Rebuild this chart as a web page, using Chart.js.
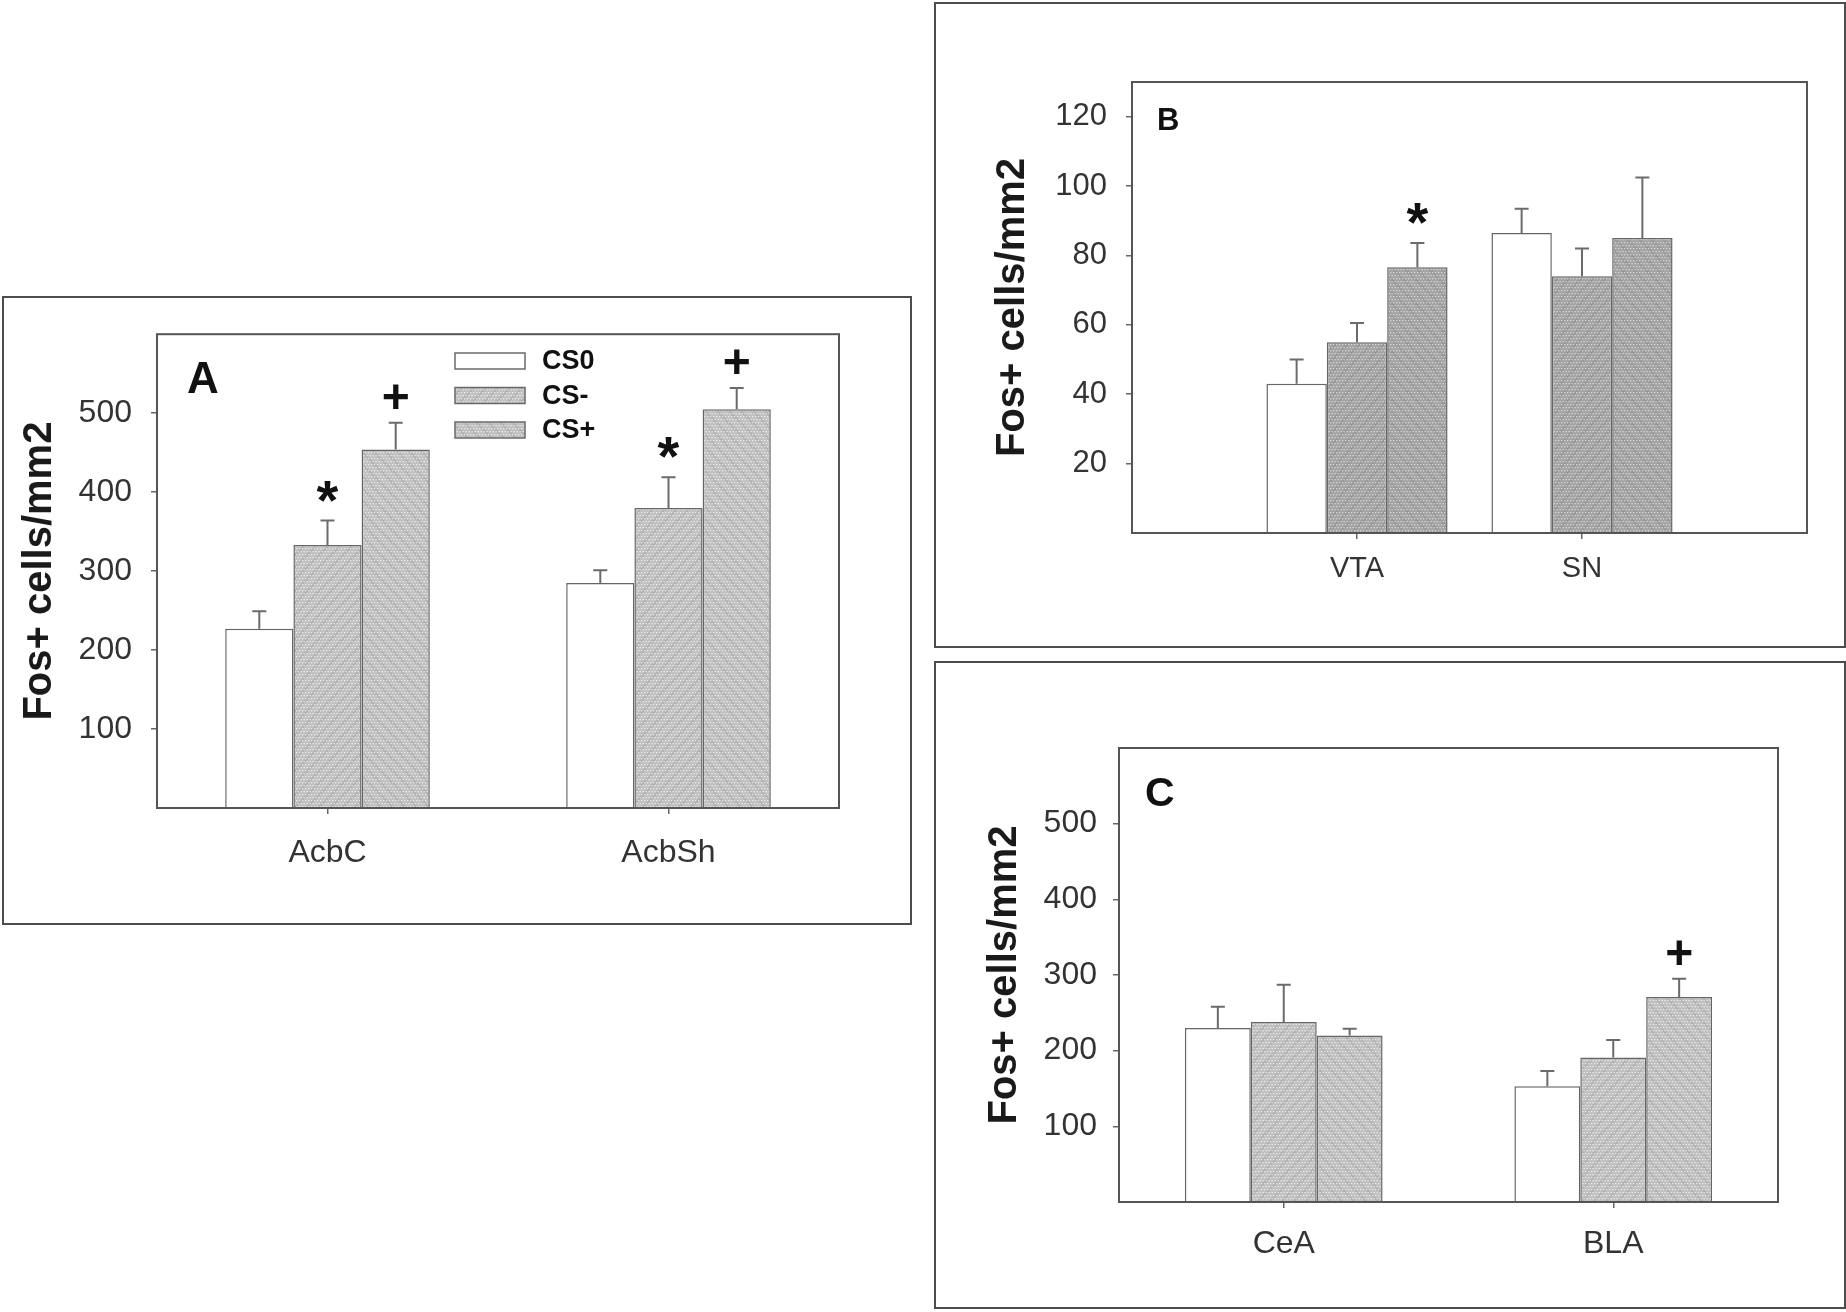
<!DOCTYPE html>
<html><head><meta charset="utf-8">
<script src="https://cdn.jsdelivr.net/npm/chart.js@4.4.1/dist/chart.umd.min.js"></script>
<style>
html,body{margin:0;padding:0;background:#fff;}
body{width:1846px;height:1312px;position:relative;overflow:hidden;}
.panel{position:absolute;box-sizing:border-box;border:2px solid #4d4d4d;}
canvas{position:absolute;}
</style></head><body>
<div class="panel" style="left:2px;top:296px;width:910px;height:629px"></div>
<canvas id="cA" width="910" height="629" style="left:2px;top:296px"></canvas>
<div class="panel" style="left:934px;top:2px;width:912px;height:646px"></div>
<canvas id="cB" width="912" height="646" style="left:934px;top:2px"></canvas>
<div class="panel" style="left:934px;top:661px;width:912px;height:648px"></div>
<canvas id="cC" width="912" height="648" style="left:934px;top:661px"></canvas>
<script>
// ---------- data ----------
const seriesNames = ['CS0', 'CS-', 'CS+'];
const yTitle = 'Fos+ cells/mm2';

// Panel A
const catsA = ['AcbC', 'AcbSh'];
const cs0A = [227, 285];
const csMinusA = [333, 380];
const csPlusA = [454, 505];
const errCs0A = [22, 16];
const errCsMinusA = [31, 39];
const errCsPlusA = [34, 27];
const marksCs0A = ['', ''];
const marksCsMinusA = ['*', '*'];
const marksCsPlusA = ['+', '+'];
const yTicksA = [100, 200, 300, 400, 500];

// Panel B
const catsB = ['VTA', 'SN'];
const cs0B = [43, 86.5];
const csMinusB = [55, 74];
const csPlusB = [76.6, 85];
const errCs0B = [7, 7];
const errCsMinusB = [5.5, 8];
const errCsPlusB = [7, 17.5];
const marksCs0B = ['', ''];
const marksCsMinusB = ['', ''];
const marksCsPlusB = ['*', ''];
const yTicksB = [20, 40, 60, 80, 100, 120];

// Panel C
const catsC = ['CeA', 'BLA'];
const cs0C = [230, 153];
const csMinusC = [238, 191];
const csPlusC = [220, 271];
const errCs0C = [28, 20];
const errCsMinusC = [49, 23];
const errCsPlusC = [9, 24];
const marksCs0C = ['', ''];
const marksCsMinusC = ['', ''];
const marksCsPlusC = ['', '+'];
const yTicksC = [100, 200, 300, 400, 500];

// ---------- style helpers ----------
const FONT = '"Liberation Sans", Arial, Helvetica, sans-serif';

function makePattern(base, dot, dir) {
  const s = 12;
  const c = document.createElement('canvas');
  c.width = s; c.height = s;
  const g = c.getContext('2d');
  g.fillStyle = base; g.fillRect(0, 0, s, s);
  g.strokeStyle = 'rgba(0,0,0,0.09)'; g.lineWidth = 2;
  g.beginPath();
  for (let k = -s; k <= 2 * s; k += s) {
    if (dir > 0) { g.moveTo(k - s, s); g.lineTo(k + s, -s); }
    else { g.moveTo(k - s, -s); g.lineTo(k + s, s); }
  }
  g.stroke();
  g.fillStyle = dot;
  for (let y = 0; y < s; y += 3) {
    const off = ((y / 3) % 2) * 1.5;
    for (let x = off; x < s; x += 3) g.fillRect(x, y, 1.3, 1.3);
  }
  return g.createPattern(c, 'repeat');
}

const framePlugin = {
  id: 'frame',
  afterDatasetsDraw(chart) {
    const a = chart.chartArea, ctx = chart.ctx;
    ctx.save();
    ctx.strokeStyle = '#555';
    ctx.lineWidth = 2;
    ctx.strokeRect(a.left, a.top, a.right - a.left, a.bottom - a.top);
    ctx.restore();
  }
};

const errPlugin = {
  id: 'errbars',
  afterDatasetsDraw(chart) {
    const ctx = chart.ctx, ys = chart.scales.y;
    ctx.save();
    chart.data.datasets.forEach((ds, di) => {
      const meta = chart.getDatasetMeta(di);
      meta.data.forEach((bar, i) => {
        const v = ds.data[i].y, e = ds.errors[i];
        const yTop = ys.getPixelForValue(v + e);
        ctx.strokeStyle = '#6b6b6b';
        ctx.lineWidth = 2;
        ctx.beginPath();
        ctx.moveTo(bar.x, bar.y);
        ctx.lineTo(bar.x, yTop);
        ctx.moveTo(bar.x - 7, yTop);
        ctx.lineTo(bar.x + 7, yTop);
        ctx.stroke();
        const m = ds.marks[i];
        if (m) {
          ctx.fillStyle = '#111';
          ctx.textAlign = 'center';
          ctx.textBaseline = 'alphabetic';
          ctx.font = 'bold ' + (m === '*' ? 56 : 48) + 'px ' + FONT;
          ctx.fillText(m, bar.x, yTop - (m === '*' ? 2 : 10));
        }
      });
    });
    ctx.restore();
  }
};

const letterPlugin = {
  id: 'letter',
  afterDraw(chart, args, opts) {
    if (!opts || !opts.text) return;
    const ctx = chart.ctx;
    ctx.save();
    ctx.fillStyle = '#111';
    ctx.font = 'bold ' + opts.size + 'px ' + FONT;
    ctx.textAlign = 'left';
    ctx.textBaseline = 'alphabetic';
    ctx.fillText(opts.text, opts.x, opts.y);
    ctx.restore();
  }
};

const legendPlugin = {
  id: 'boxlegend',
  afterDraw(chart, args, opts) {
    if (!opts || !opts.show) return;
    const ctx = chart.ctx;
    ctx.save();
    chart.data.datasets.forEach((ds, i) => {
      const y = opts.y + i * opts.dy;
      ctx.fillStyle = ds.backgroundColor;
      ctx.fillRect(opts.x, y, opts.w, opts.h);
      ctx.strokeStyle = '#6a6a6a';
      ctx.lineWidth = 1.5;
      ctx.strokeRect(opts.x, y, opts.w, opts.h);
      ctx.fillStyle = '#111';
      ctx.font = 'bold 27px ' + FONT;
      ctx.textAlign = 'left';
      ctx.textBaseline = 'middle';
      ctx.fillText(ds.label, opts.tx, y + opts.h / 2 + 1);
    });
    ctx.restore();
  }
};

function buildPanel(id, p) {
  const ctx = document.getElementById(id).getContext('2d');
  const fills = ['#ffffff', makePattern(p.base, p.dot, 1), makePattern(p.base, p.dot, -1)];
  const datasets = p.series.map((vals, s) => ({
    label: seriesNames[s],
    data: vals.map((v, i) => ({ x: i + 1, y: v })),
    errors: p.errors[s],
    marks: p.marks[s],
    backgroundColor: fills[s],
    borderColor: '#666',
    borderWidth: 1.5,
    barPercentage: 1,
    categoryPercentage: p.catPct
  }));
  return new Chart(ctx, {
    type: 'bar',
    data: { datasets },
    options: {
      responsive: false,
      animation: false,
      devicePixelRatio: 1,
      layout: { padding: { left: 0, top: p.padTop, right: p.padRight, bottom: 0 } },
      plugins: {
        legend: { display: false },
        tooltip: { enabled: false },
        letter: p.letter,
        boxlegend: p.legend || { show: false }
      },
      scales: {
        x: {
          type: 'linear',
          min: p.xmin, max: p.xmax,
          offset: false,
          afterBuildTicks: sc => { sc.ticks = p.cats.map((c, i) => ({ value: i + 1 })); },
          afterFit: sc => { sc.height = p.xh; },
          ticks: {
            callback: v => p.cats[v - 1],
            font: { family: FONT, size: p.xfont },
            color: '#333',
            padding: p.xpad,
            maxRotation: 0,
            autoSkip: false
          },
          grid: { display: true, offset: false, drawOnChartArea: false, drawTicks: true, tickLength: 6, color: '#666', lineWidth: 1.5 },
          border: { display: false }
        },
        y: {
          min: 0, max: p.ymax,
          afterBuildTicks: sc => { sc.ticks = p.yticks.map(v => ({ value: v })); },
          afterFit: sc => { sc.width = p.yw; },
          ticks: { font: { family: FONT, size: p.yfont }, color: '#333', padding: p.ypad },
          grid: { display: true, drawOnChartArea: false, drawTicks: true, tickLength: 6, color: '#666', lineWidth: 1.5 },
          border: { display: false },
          title: {
            display: true,
            text: yTitle,
            font: { family: FONT, size: 40, weight: 'bold' },
            color: '#1a1a1a',
            padding: { top: p.tpad, bottom: 0 }
          }
        }
      }
    },
    plugins: [framePlugin, errPlugin, letterPlugin, legendPlugin]
  });
}

buildPanel('cA', {
  cats: catsA,
  series: [cs0A, csMinusA, csPlusA],
  errors: [errCs0A, errCsMinusA, errCsPlusA],
  marks: [marksCs0A, marksCsMinusA, marksCsPlusA],
  yticks: yTicksA,
  ymax: 600, xmin: 0.5, xmax: 2.5, catPct: 0.60,
  base: '#c0c0c0', dot: '#e9e9e9',
  yw: 155, padTop: 36, padRight: 73, xh: 117, xpad: 20, ypad: 19, tpad: 14,
  xfont: 32, yfont: 32,
  letter: { text: 'A', x: 185, y: 97, size: 44 },
  legend: { show: true, x: 453, y: 57, dy: 34.5, w: 70, h: 16, tx: 540 }
});

buildPanel('cB', {
  cats: catsB,
  series: [cs0B, csMinusB, csPlusB],
  errors: [errCs0B, errCsMinusB, errCsPlusB],
  marks: [marksCs0B, marksCsMinusB, marksCsPlusB],
  yticks: yTicksB,
  ymax: 130, xmin: 0, xmax: 3, catPct: 0.805,
  base: '#a3a3a3', dot: '#d6d6d6',
  yw: 198, padTop: 80, padRight: 39, xh: 115, xpad: 13, ypad: 19, tpad: 55,
  xfont: 29, yfont: 31,
  letter: { text: 'B', x: 223, y: 128, size: 31 }
});

buildPanel('cC', {
  cats: catsC,
  series: [cs0C, csMinusC, csPlusC],
  errors: [errCs0C, errCsMinusC, errCsPlusC],
  marks: [marksCs0C, marksCsMinusC, marksCsPlusC],
  yticks: yTicksC,
  ymax: 600, xmin: 0.5, xmax: 2.5, catPct: 0.60,
  base: '#c0c0c0', dot: '#e9e9e9',
  yw: 185, padTop: 87, padRight: 68, xh: 107, xpad: 17, ypad: 16, tpad: 47,
  xfont: 32, yfont: 32,
  letter: { text: 'C', x: 211, y: 145, size: 41 }
});
</script>
</body></html>
